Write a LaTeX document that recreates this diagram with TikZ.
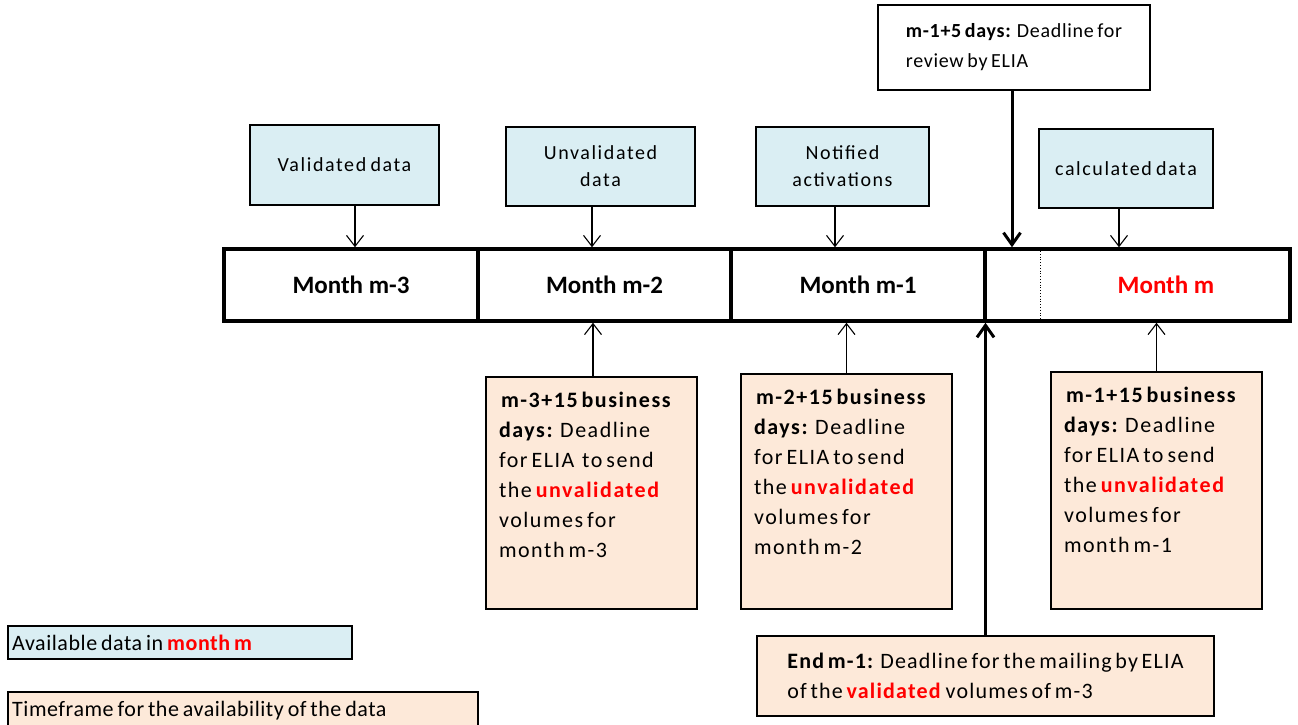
\documentclass[tikz,border=0pt]{standalone}
\usepackage{fontspec}
\setmainfont{Carlito}
\newfontfamily\spA[LetterSpace=7,WordSpace=0.6]{Carlito}
\newfontfamily\spB[LetterSpace=8,WordSpace=0.7]{Carlito}
\newfontfamily\spC[LetterSpace=3.5,WordSpace=0.7]{Carlito}
\newfontfamily\spD[LetterSpace=5.5,WordSpace=0.6]{Carlito}
\newfontfamily\spE[LetterSpace=2.5,WordSpace=0.7]{Carlito}
\usetikzlibrary{arrows.meta}
\definecolor{bluefill}{HTML}{DAEEF3}
\definecolor{peachfill}{HTML}{FDE9D9}
\definecolor{redtxt}{HTML}{FF0000}
\newcommand{\rd}[1]{\textcolor{redtxt}{\textbf{#1}}}
\tikzset{
  bluebox/.style={draw=black, fill=bluefill, line width=1.3pt, inner sep=0pt, align=center, font=\spB\fontsize{20}{27}\selectfont},
  peachbox/.style={draw=black, fill=peachfill, line width=1.3pt, inner sep=0pt},
  whitebox/.style={draw=black, fill=white, line width=1.3pt, inner sep=0pt},
  cell/.style={draw=black, line width=3.5pt, inner sep=0pt, font=\fontsize{25}{30}\bfseries\selectfont},
  thinarrow/.style={line width=1.1pt, -{Straight Barb[length=11pt, width=17pt, line width=1.1pt]}},
  thickarrow/.style={line width=3pt, -{Straight Barb[length=12pt, width=17pt, line width=3pt]}},
  legendtext/.style={anchor=west, inner sep=0pt, font=\spE\fontsize{22}{26}\selectfont}
}
\newcommand{\peachtext}[2]{\begin{minipage}[c][#1][t]{185pt}\spA\fontsize{22}{30}\selectfont\vspace{15pt}\raggedright\hspace*{2pt}\ignorespaces #2\end{minipage}}
\begin{document}
\begin{tikzpicture}[x=1pt,y=-1pt]
\useasboundingbox (0,0) rectangle (1298,724);
% timeline cells
\node[cell, minimum width=254pt, minimum height=72pt] (m1) at (351,285) {Month m-3};
\node[cell, minimum width=253pt, minimum height=72pt] (m2) at (604.5,285) {Month m-2};
\node[cell, minimum width=254pt, minimum height=72pt] (m3) at (858,285) {Month m-1};
\node[cell, minimum width=305pt, minimum height=72pt] (m4) at (1137.5,285) {};
\node[inner sep=0pt, font=\fontsize{25}{30}\bfseries\selectfont, text=redtxt] (m4t) at (1166,285) {Month m};
\coordinate (dtop) at (1040,251);
\coordinate (dbot) at (1040,319);
\draw[line width=0.8pt, dotted] (dtop) -- (dbot);
% blue boxes
\node[bluebox, minimum width=189pt, minimum height=80pt] (v1) at (344.5,165) {Validated data};
\node[bluebox, minimum width=189pt, minimum height=79pt] (v2) at (600.5,166.5) {Unvalidated\\data};
\node[bluebox, minimum width=173pt, minimum height=79pt] (v3) at (842.5,166.5) {Notified\\activations};
\node[bluebox, minimum width=174pt, minimum height=79pt] (v4) at (1126,168.5) {calculated data};
\draw[thinarrow] ([xshift=10.5pt]v1.south) -- ([xshift=10.5pt]v1.south |- m1.north);
\draw[thinarrow] ([xshift=-8.5pt]v2.south) -- ([xshift=-8.5pt]v2.south |- m2.north);
\draw[thinarrow] ([xshift=-7.5pt]v3.south) -- ([xshift=-7.5pt]v3.south |- m3.north);
\draw[thinarrow] ([xshift=-7pt]v4.south) -- ([xshift=-7pt]v4.south |- m4.north);
% review box
\node[whitebox, minimum width=272pt, minimum height=85pt, align=left, font=\spC\fontsize{20}{30}\selectfont] (rev) at (1014,47.5) {\textbf{m-1+5 days:} Deadline for\\review by ELIA};
\draw[thickarrow] ([xshift=-2pt]rev.south) -- ([xshift=-2pt]rev.south |- m4.north);
% peach boxes
\node[peachbox, minimum width=211pt, minimum height=232pt] (b1) at (591.5,493) {\peachtext{232pt}{\textbf{m-3+15 business}\\\textbf{days:} Deadline\\for ELIA\ \ to send\\the \rd{unvalidated}\\volumes for\\month m-3}};
\node[peachbox, minimum width=211pt, minimum height=235pt] (b2) at (846.5,491.5) {\peachtext{235pt}{\textbf{m-2+15 business}\\\textbf{days:} Deadline\\for ELIA to send\\the \rd{unvalidated}\\volumes for\\month m-2}};
\node[peachbox, minimum width=211pt, minimum height=237pt] (b3) at (1156.5,490.5) {\peachtext{237pt}{\textbf{m-1+15 business}\\\textbf{days:} Deadline\\for ELIA to send\\the \rd{unvalidated}\\volumes for\\month m-1}};
\draw[thinarrow] ([xshift=1.5pt]b1.north) -- ([xshift=1.5pt]b1.north |- m2.south);
\draw[thinarrow] (b2.north) -- (b2.north |- m3.south);
\draw[thinarrow] (b3.north) -- (b3.north |- m4.south);
% end m-1 box
\node[peachbox, minimum width=457pt, minimum height=80pt, align=left, font=\spD\fontsize{22}{30}\selectfont] (endb) at (985.5,676) {\textbf{End m-1:} Deadline for the mailing by ELIA\\of the \rd{validated} volumes of m-3};
\draw[thickarrow] (endb.north) -- (endb.north |- m3.south);
% legend
\node[draw=black, fill=bluefill, line width=1.5pt, inner sep=0pt, minimum width=344pt, minimum height=33pt] (lg1) at (180,642.5) {};
\node[legendtext] (lg1t) at (12,643) {Available data in \rd{month m}};
\node[draw=black, fill=peachfill, line width=1.5pt, inner sep=0pt, minimum width=470pt, minimum height=44pt] (lg2) at (243,714) {};
\node[legendtext] (lg2t) at (12,711) {Timeframe for the availability of the data};
\end{tikzpicture}
\end{document}
